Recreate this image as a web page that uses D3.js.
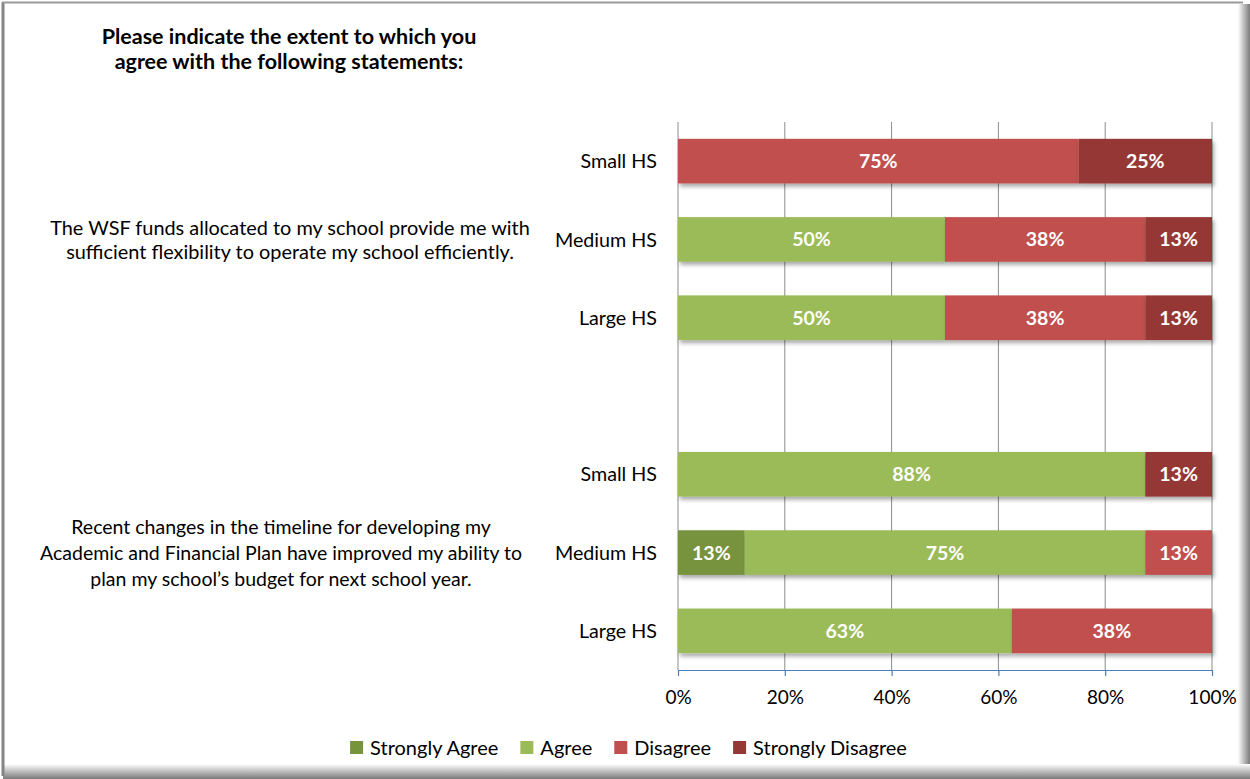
<!DOCTYPE html>
<html>
<head>
<meta charset="utf-8">
<script src="https://cdn.jsdelivr.net/npm/d3@7"></script>
<style>
  html, body { margin: 0; padding: 0; background: #fff; }
  svg { display: block; }
  text { font-family: Lato, "Open Sans", sans-serif; fill: #000; }
</style>
</head>
<body>
<svg id="chart" width="1250" height="779"></svg>
<script>
// ---- data ----
const rowKeys = ["s1-small", "s1-medium", "s1-large", "gap", "s2-small", "s2-medium", "s2-large"];
const rowLabels = ["Small HS", "Medium HS", "Large HS", "", "Small HS", "Medium HS", "Large HS"];
const seriesNames = ["Strongly Agree", "Agree", "Disagree", "Strongly Disagree"];
const seriesColors = ["#77933C", "#9BBB59", "#C0504D", "#953735"];
const stronglyAgree    = [0,    0,    0,    0, 0,    12.5, 0];
const agree            = [0,    50,   50,   0, 87.5, 75,   62.5];
const disagree         = [75,   37.5, 37.5, 0, 0,    12.5, 37.5];
const stronglyDisagree = [25,   12.5, 12.5, 0, 12.5, 0,    0];
const tickValues = [0, 20, 40, 60, 80, 100];
const titleLines = ["Please indicate the extent to which you", "agree with the following statements:"];
const statement1 = ["The WSF funds allocated to my school provide me with", "sufficient flexibility to operate my school efficiently."];
const statement2 = ["Recent changes in the timeline for developing my", "Academic and Financial Plan have improved my ability to", "plan my school\u2019s budget for next school year."];

// ---- build table ----
const seriesValues = [stronglyAgree, agree, disagree, stronglyDisagree];
const table = rowKeys.map((k, i) => {
  const o = { key: k, label: rowLabels[i] };
  seriesNames.forEach((s, j) => o[s] = seriesValues[j][i]);
  return o;
});
const stacked = d3.stack().keys(seriesNames)(table.filter(d => d.key !== "gap"));

const svg = d3.select("#chart");
const W = 1250, H = 779;

// ---- defs ----
const defs = svg.append("defs");
const f = defs.append("filter").attr("id", "barShadow").attr("x", "-5%").attr("y", "-20%").attr("width", "115%").attr("height", "160%");
f.append("feDropShadow").attr("dx", 2).attr("dy", 3).attr("stdDeviation", 2).attr("flood-color", "#000").attr("flood-opacity", 0.35);
const gb = defs.append("linearGradient").attr("id", "gBottom").attr("x1", 0).attr("y1", 0).attr("x2", 0).attr("y2", 1);
gb.append("stop").attr("offset", 0).attr("stop-color", "#fff");
gb.append("stop").attr("offset", 1).attr("stop-color", "#7a7a7a");
const gr = defs.append("linearGradient").attr("id", "gRight").attr("x1", 0).attr("y1", 0).attr("x2", 1).attr("y2", 0);
gr.append("stop").attr("offset", 0).attr("stop-color", "#fff");
gr.append("stop").attr("offset", 1).attr("stop-color", "#7a7a7a");

// ---- frame ----
svg.append("rect").attr("x", 0).attr("y", 0).attr("width", W).attr("height", H).attr("fill", "#fff");
svg.append("rect").attr("x", 1238).attr("y", 4).attr("width", 12).attr("height", H - 4).attr("fill", "url(#gRight)");
svg.append("rect").attr("x", 3).attr("y", 764).attr("width", W - 3).attr("height", 15).attr("fill", "url(#gBottom)");
svg.append("line").attr("x1", 3).attr("x2", 3).attr("y1", 2).attr("y2", 776).attr("stroke", "#858585").attr("stroke-width", 3);
svg.append("line").attr("x1", 2).attr("x2", 1243).attr("y1", 2.5).attr("y2", 2.5).attr("stroke", "#9a9a9a").attr("stroke-width", 2);

// ---- scales ----
const x = d3.scaleLinear().domain([0, 100]).range([678, 1212]);
const y = d3.scaleBand().domain(rowKeys).range([122, 670]).paddingInner(0.43).paddingOuter(0.215);
const color = d3.scaleOrdinal().domain(seriesNames).range(seriesColors);

// ---- gridlines ----
svg.append("g").selectAll("line").data(tickValues).join("line")
  .attr("x1", d => x(d)).attr("x2", d => x(d))
  .attr("y1", 122).attr("y2", 670)
  .attr("stroke", "#8c8c8c").attr("stroke-width", 1);

// ---- bars ----
const barsG = svg.append("g");
stacked.forEach(layer => {
  const g = barsG.append("g").attr("filter", "url(#barShadow)");
  g.selectAll("rect").data(layer.filter(d => d[1] - d[0] > 0)).join("rect")
    .attr("x", d => x(d[0]))
    .attr("y", d => y(d.data.key))
    .attr("width", d => x(d[1]) - x(d[0]))
    .attr("height", y.bandwidth())
    .attr("fill", color(layer.key));
});
// labels
stacked.forEach(layer => {
  barsG.append("g").selectAll("text").data(layer.filter(d => d[1] - d[0] > 0)).join("text")
    .attr("x", d => (x(d[0]) + x(d[1])) / 2)
    .attr("y", d => y(d.data.key) + y.bandwidth() / 2)
    .attr("dy", "0.36em")
    .attr("text-anchor", "middle")
    .style("font-size", "19.5px").style("font-weight", "bold").style("fill", "#fff")
    .text(d => Math.round(d[1] - d[0]) + "%");
});

// ---- x axis ----
const xAxis = d3.axisBottom(x).tickValues(tickValues).tickSize(6).tickSizeOuter(0).tickFormat(d => d + "%");
const axG = svg.append("g").attr("transform", "translate(0,670)").call(xAxis);
axG.select(".domain").attr("stroke", "#4A7EBB").attr("stroke-width", 1.2);
axG.selectAll(".tick line").attr("stroke", "#4A7EBB").attr("stroke-width", 1.2);
axG.selectAll(".tick text").attr("y", 21).attr("dy", "0.71em")
  .style("font-family", "Lato, sans-serif").style("font-size", "19px").attr("fill", "#000");

// ---- category labels ----
svg.append("g").selectAll("text").data(table.filter(d => d.label)).join("text")
  .attr("x", 657).attr("y", d => y(d.key) + y.bandwidth() / 2).attr("dy", "0.36em")
  .attr("text-anchor", "end").style("font-size", "19.7px")
  .text(d => d.label);

// ---- statements ----
function multiline(lines, cx, cy, lh, fs) {
  const off = (lines.length - 1) / 2;
  svg.append("g").selectAll("text").data(lines).join("text")
    .attr("x", cx).attr("y", (d, i) => cy + (i - off) * lh).attr("dy", "0.36em")
    .attr("text-anchor", "middle").style("font-size", fs)
    .text(d => d);
}
multiline(statement1, 290, y("s1-medium") + y.bandwidth() / 2, 24, "19.9px");
multiline(statement2, 281, y("s2-medium") + y.bandwidth() / 2, 26, "19.5px");

// ---- title ----
svg.append("g").selectAll("text").data(titleLines).join("text")
  .attr("x", 289).attr("y", (d, i) => 36 + i * 25).attr("dy", "0.36em")
  .attr("text-anchor", "middle").style("font-size", "21.5px").style("font-weight", "bold")
  .text(d => d);

// ---- legend ----
const legG = svg.append("g");
const items = legG.selectAll("g").data(seriesNames).join("g");
items.append("rect").attr("width", 13).attr("height", 13).attr("y", -7).attr("fill", d => color(d));
items.append("text").attr("x", 20).attr("dy", "0.36em").style("font-size", "20px").text(d => d);
let cur = 0;
items.each(function () {
  d3.select(this).attr("transform", `translate(${cur},748)`);
  cur += this.getBBox().width + 22;
});
const total = cur - 22;
legG.attr("transform", `translate(${628.5 - total / 2},0)`);
</script>
</body>
</html>
